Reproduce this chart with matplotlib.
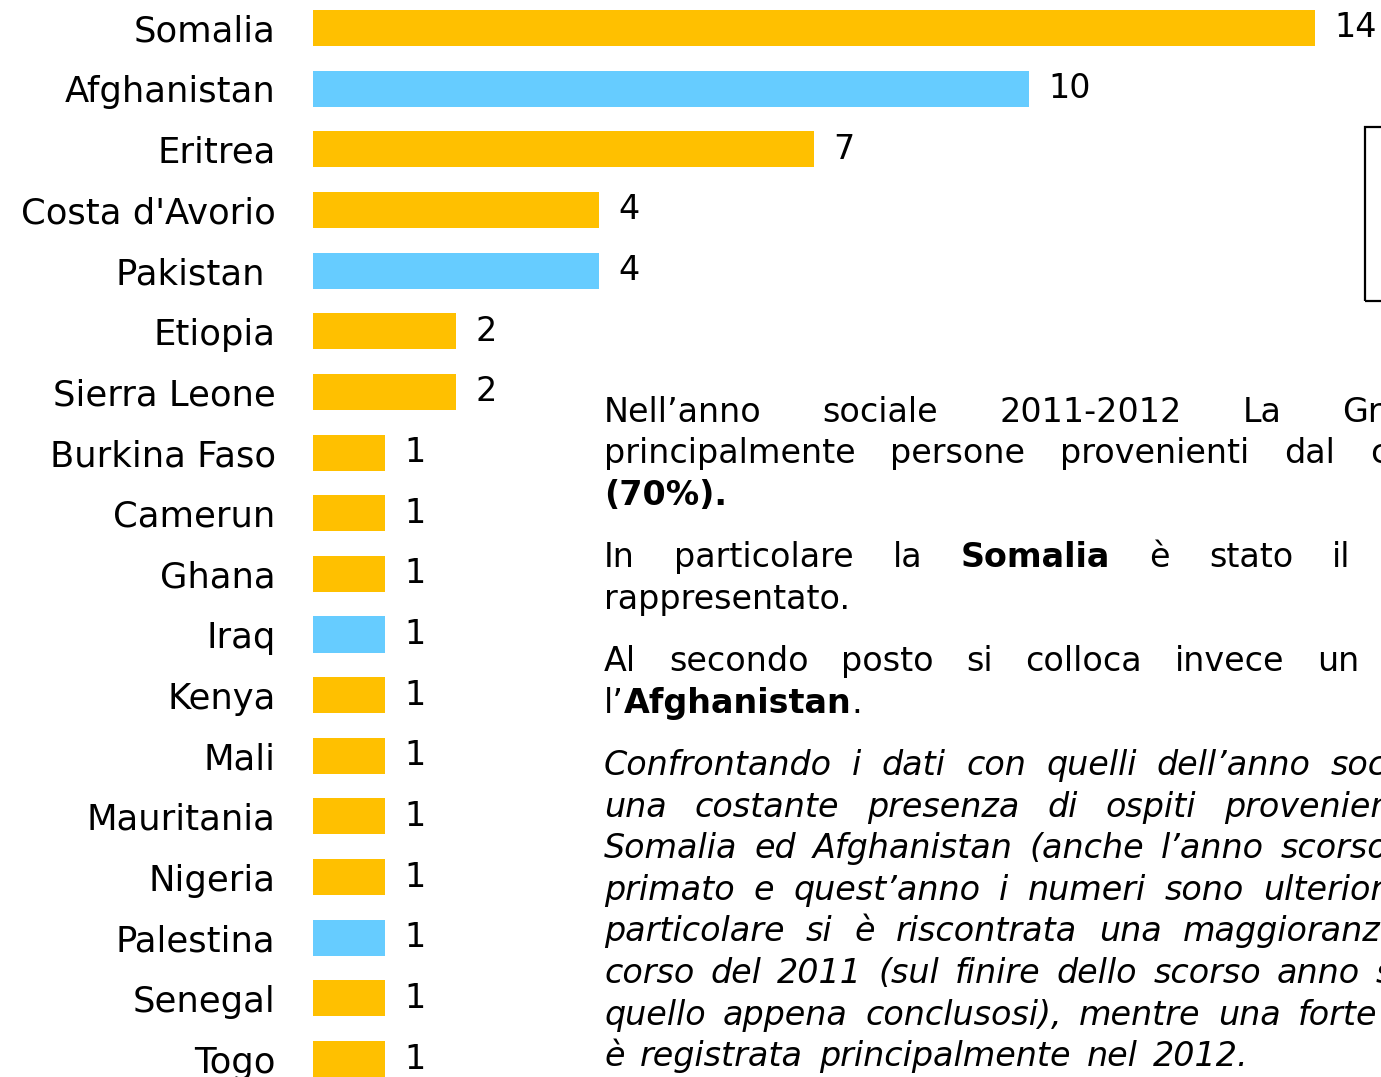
import matplotlib.pyplot as plt
from matplotlib.patches import Rectangle

plt.rcParams['font.family'] = ['DejaVu Sans']

# Dati: ospiti per paese di provenienza
paesi = ['Somalia', 'Afghanistan', 'Eritrea', "Costa d'Avorio", 'Pakistan ',
         'Etiopia', 'Sierra Leone', 'Burkina Faso', 'Camerun', 'Ghana', 'Iraq',
         'Kenya', 'Mali', 'Mauritania', 'Nigeria', 'Palestina', 'Senegal', 'Togo']
valori = [14, 10, 7, 4, 4, 2, 2, 1, 1, 1, 1, 1, 1, 1, 1, 1, 1, 1]
area = ['africa', 'asia', 'africa', 'africa', 'asia', 'africa', 'africa',
        'africa', 'africa', 'africa', 'asia', 'africa', 'africa', 'africa',
        'africa', 'asia', 'africa', 'africa']

colori = {'africa': '#FFC000', 'asia': '#66CCFF'}

W, H = 1381, 1077
fig = plt.figure(figsize=(W / 100, H / 100), dpi=100)

def fx(x):
    return x / W

def fy(y):
    return 1 - y / H

# asse: x=0 a 313 px, 71.6 px per unita'
ax = fig.add_axes([fx(313), 0, 1 - fx(313), 1])
pos = list(range(len(paesi)))
bars = ax.barh(pos, valori, height=0.594,
               color=[colori[a] for a in area], edgecolor='none')
ax.bar_label(bars, labels=[str(v) for v in valori], padding=14,
             fontsize=24, color='black')

ax.set_xlim(0, (W - 313) / 71.6)
ax.set_ylim((H - 28) / 60.65, -28 / 60.65)
ax.set_yticks(pos)
ax.set_yticklabels(paesi, fontsize=25.5)
ax.tick_params(axis='y', length=0, pad=27)
ax.set_xticks([])
for s in ax.spines.values():
    s.set_visible(False)

# riquadro in alto a destra (tagliato)
fig.patches.append(Rectangle((fx(1365), fy(301)), 0.1, fy(127) - fy(301),
                             transform=fig.transFigure, fill=False,
                             edgecolor='black', linewidth=1.6))

fs = 24
X0 = 604
renderer = fig.canvas.get_renderer()

def riga(y, parole, x_ultima=None, style='normal'):
    # parole con '*' davanti sono in grassetto
    tt = []
    for p in parole:
        w = 'bold' if p.startswith('*') else 'normal'
        tt.append(fig.text(fx(X0), fy(y), p.lstrip('*'), fontsize=fs,
                           va='baseline', ha='left', fontweight=w,
                           fontstyle=style))
    larg = [t.get_window_extent(renderer).width for t in tt]
    if x_ultima is None:
        gap = 0
    else:
        gap = (x_ultima - X0 - sum(larg[:-1])) / (len(tt) - 1)
    x = X0
    for t, l in zip(tt, larg):
        t.set_x(fx(x))
        x += l + gap

# testo giustificato (tagliato a destra come nell'originale)
riga(422, ['Nell’anno', 'sociale', '2011-2012', 'La', 'Gr'], 1342)
riga(463, ['principalmente', 'persone', 'provenienti', 'dal', 'c'], 1370)
riga(505, ['*(70%).'])
riga(567, ['In', 'particolare', 'la', '*Somalia', 'è', 'stato', 'il'], 1332)
riga(609, ['rappresentato.'])
riga(671, ['Al', 'secondo', 'posto', 'si', 'colloca', 'invece', 'un'], 1317)
riga(713, ['l’', '*Afghanistan', '.'])

it = 'italic'
riga(775, 'Confrontando i dati con quelli dell’anno soc'.split(), 1331, it)
riga(817, 'una costante presenza di ospiti provenien'.split(), 1224, it)
riga(858, 'Somalia ed Afghanistan (anche l’anno scorso'.split(), 1281, it)
riga(900, 'primato e quest’anno i numeri sono ulterior'.split(), 1263, it)
riga(941, 'particolare si è riscontrata una maggioranz'.split(), 1183, it)
riga(983, 'corso del 2011 (sul finire dello scorso anno s'.split(), 1376, it)
riga(1025, 'quello appena conclusosi), mentre una forte'.split(), 1298, it)
riga(1066, 'è registrata principalmente nel 2012.'.split(), 1153, it)

fig.savefig('out.png', dpi=100)
